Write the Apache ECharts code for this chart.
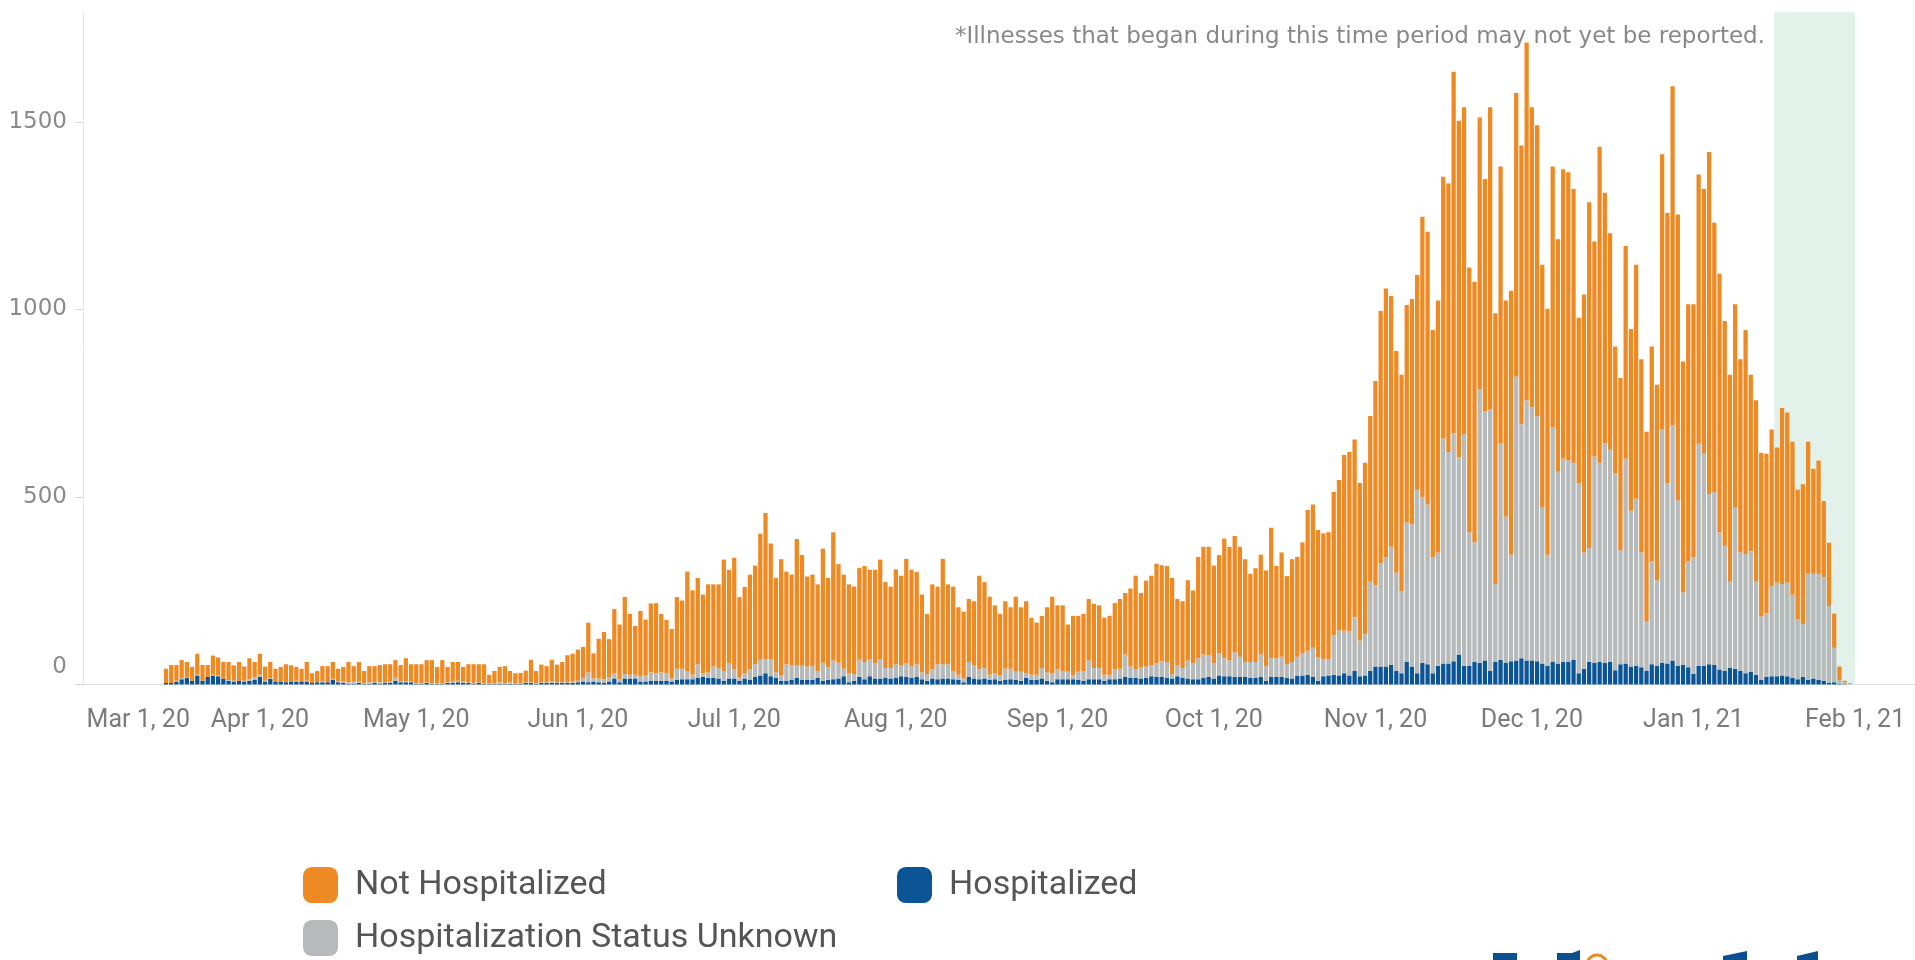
<!DOCTYPE html>
<html>
<head>
<meta charset="utf-8">
<title>Illness onset by hospitalization status</title>
<script src="https://cdn.jsdelivr.net/npm/echarts@6/dist/echarts.min.js"></script>
<style>
  html, body { margin: 0; padding: 0; background: #fff; }
  #chart { width: 1915px; height: 960px; }
</style>
</head>
<body>
<div id="chart"></div>
<script>
// daily counts, first bar is Mar 14, 2020, last is Jan 31, 2021
const firstDay = '2020-03-14';

const hospitalized = [
  // Mar 14-31
  4,4,8,14,18,10,24,10,20,24,22,15,10,8,10,8,10,12,
  // Apr
  20,8,15,8,8,6,8,8,8,8,4,6,6,6,12,6,4,2,2,4,2,2,4,2,4,4,10,6,6,6,
  // May
  2,2,4,2,2,2,4,4,6,4,4,2,4,2,2,2,2,2,2,2,2,4,4,2,4,4,4,4,4,4,4,
  // Jun
  6,8,6,8,6,4,8,16,6,16,16,16,8,8,10,10,10,10,8,12,14,14,14,18,20,18,18,16,10,16,
  // Jul
  16,10,16,12,20,24,30,22,18,10,10,12,18,12,12,12,18,10,12,14,16,22,6,10,20,14,22,16,16,18,16,
  // Aug
  18,22,20,18,20,14,10,16,14,16,16,14,12,6,20,16,14,16,12,14,10,12,14,12,10,18,12,12,16,10,6,
  // Sep
  14,14,14,14,12,10,14,14,14,10,14,14,16,20,18,18,16,18,22,20,20,18,16,22,18,16,14,14,18,20,
  // Oct
  16,24,22,22,20,20,20,18,18,20,10,20,20,20,18,16,24,24,26,20,10,22,24,26,24,30,24,36,22,24,36,
  // Nov
  48,48,48,52,36,30,60,48,30,58,54,30,50,56,56,62,80,50,50,60,58,64,36,60,66,58,62,64,70,64,
  // Dec
  64,62,56,50,60,56,60,60,66,30,42,60,58,60,58,60,38,54,56,48,50,46,36,54,50,58,56,64,50,52,46,
  // Jan
  28,50,50,54,52,40,36,44,42,36,30,34,26,12,20,22,22,24,22,18,14,20,12,16,12,10,4,6,2,1,0
];

const statusUnknown = [
  0,0,2,3,2,0,2,0,0,2,2,0,2,2,0,2,4,8,
  6,2,2,0,0,0,0,2,0,2,0,0,2,0,3,2,4,4,6,4,2,4,2,4,2,4,8,2,2,2,
  2,2,2,2,2,2,2,4,4,4,2,2,2,2,2,2,4,2,4,2,2,2,2,2,2,2,4,2,2,2,4,
  4,8,26,8,10,10,12,14,8,12,10,10,14,16,22,20,22,20,8,30,28,22,12,36,10,14,30,28,26,40,
  24,10,14,28,34,42,38,46,14,14,44,38,34,38,36,36,18,48,34,50,42,20,24,18,46,46,46,40,52,26,28,
  36,30,36,30,34,18,18,24,40,38,38,22,14,10,40,36,26,28,14,16,14,30,28,22,24,12,14,14,28,22,24,
  26,22,20,10,22,26,50,30,30,16,10,26,26,60,30,22,30,30,30,36,42,42,12,30,26,48,42,56,62,58,
  40,60,48,42,66,54,40,42,42,60,38,50,50,54,36,44,50,60,64,78,62,46,44,106,120,113,117,143,95,110,238,
  217,276,292,315,262,218,372,379,489,441,426,310,302,600,564,608,526,618,356,319,729,664,698,208,578,389,284,757,624,694,
  676,654,415,296,626,511,542,537,525,507,310,304,550,531,586,566,525,304,546,415,445,306,131,274,227,622,481,628,441,193,282,
  312,592,565,453,461,366,334,230,429,316,318,321,248,169,169,240,250,244,250,221,159,141,283,279,283,276,205,92,10,4,2
];

const notHospitalized = [
  38,48,42,48,40,37,56,42,32,51,48,45,48,41,50,38,56,40,
  56,38,43,34,39,48,43,37,34,50,26,30,41,43,45,34,39,54,41,52,32,43,43,46,48,46,47,44,62,46,
  50,50,59,61,43,61,41,52,50,39,48,50,48,50,22,32,41,45,30,26,27,31,60,32,47,43,58,47,54,72,74,
  83,84,133,67,106,126,101,171,146,205,162,130,174,149,184,187,156,142,132,191,182,265,225,230,210,235,219,223,297,250,
  298,213,230,253,263,336,389,308,252,310,247,243,336,295,240,245,231,304,238,342,263,251,237,233,245,256,238,250,265,229,217,
  253,238,279,258,246,208,160,227,207,281,213,225,180,178,168,170,250,229,208,181,164,180,164,200,172,192,152,139,139,174,204,
  171,175,126,159,149,152,164,171,167,152,159,177,186,164,208,250,198,229,238,266,256,256,256,176,178,214,195,270,287,289,
  261,261,319,303,310,293,274,235,250,266,256,348,246,278,235,274,266,295,375,382,340,335,338,381,401,469,479,474,420,457,442,
  544,672,716,669,591,578,580,601,573,748,727,605,672,698,716,964,897,871,706,695,725,620,805,722,737,577,704,756,743,954,
  799,775,648,656,695,620,772,769,730,441,688,922,573,843,667,577,338,459,567,485,624,515,507,573,522,734,720,903,762,616,686,
  674,718,706,913,718,689,599,552,543,515,597,471,484,437,426,418,360,469,453,408,346,373,352,280,302,203,169,91,36,5,2
];

const yTicks = [0, 500, 1000, 1500];
const monthNames = ['Jan', 'Feb', 'Mar', 'Apr', 'May', 'Jun', 'Jul', 'Aug', 'Sep', 'Oct', 'Nov', 'Dec'];
// shaded "may not yet be reported" window
const lagStart = '2021-01-16';
const lagEnd = '2021-02-01';

// category axis: one slot per day, Feb 27 2020 .. Feb 12 2021
const axisStart = Date.UTC(2020, 1, 27);
const axisDays = 352;
const days = [];
for (let i = 0; i < axisDays; i++) {
  days.push(new Date(axisStart + i * 86400000).toISOString().slice(0, 10));
}
const offset = days.indexOf(firstDay);
function onAxis(arr) {
  return days.map((d, i) => {
    const k = i - offset;
    return k >= 0 && k < arr.length ? arr[k] : null;
  });
}
const isMonthStart = (idx, d) => d.slice(8) === '01';

const FONT = 'Roboto';
const orange = '#ee8a23', grey = '#b6babb', blue = '#0b5495';

function legendItem(name, left, top) {
  return {
    data: [name], left: left, top: top, orient: 'horizontal',
    icon: 'roundRect', itemWidth: 35, itemHeight: 36,
    selectedMode: false,
    textStyle: { fontFamily: FONT, fontSize: 34, color: '#555', padding: [0, 0, 0, 12] }
  };
}

const myChart = echarts.init(document.getElementById('chart'));
const option = {
  animation: false,
  backgroundColor: '#fff',
  grid: { left: 80, right: 0, top: 12, bottom: 275.5 },
  legend: [
    legendItem('Not Hospitalized', 298, 862),
    legendItem('Hospitalized', 892, 862),
    legendItem('Hospitalization Status Unknown', 298, 915)
  ],
  xAxis: {
    type: 'category',
    data: days,
    boundaryGap: true,
    axisLine: { lineStyle: { color: '#dedede', width: 1 } },
    axisTick: { interval: isMonthStart, alignWithLabel: true, length: 8, lineStyle: { color: '#cfcfcf' } },
    axisLabel: {
      interval: isMonthStart,
      margin: 24,
      fontFamily: FONT,
      fontSize: 25,
      color: '#7b7b7b',
      formatter: d => {
        const s = monthNames[+d.slice(5, 7) - 1] + ' 1, ' + d.slice(2, 4);
        return d === '2020-03-01' ? '{first|' + s + '}' : s;
      },
      rich: {
        first: { padding: [0, 0, 0, 80], fontFamily: FONT, fontSize: 25, color: '#7b7b7b' }
      }
    }
  },
  yAxis: {
    type: 'value',
    min: 0,
    max: 1793,
    offset: -3,
    splitLine: { show: false },
    axisLine: { show: true, lineStyle: { color: '#e6e6e6' } },
    axisTick: { show: true, customValues: yTicks, length: 8, lineStyle: { color: '#d6d6d6' } },
    axisLabel: {
      customValues: yTicks,
      margin: 16,
      fontFamily: 'DejaVu Sans',
      fontSize: 23,
      color: '#8a8a8a',
      formatter: v => (v === 0 ? '{zero|0}' : String(v)),
      rich: {
        zero: { padding: [0, 0, 34, 0], fontFamily: 'DejaVu Sans', fontSize: 23, color: '#8a8a8a' }
      }
    }
  },
  series: [
    {
      name: 'Hospitalized',
      type: 'bar',
      stack: 'cases',
      barCategoryGap: '18%',
      itemStyle: { color: blue },
      emphasis: { disabled: true },
      data: onAxis(hospitalized),
      markArea: {
        silent: true,
        itemStyle: { color: '#e2f2ea' },
        data: [[{ xAxis: lagStart }, { xAxis: lagEnd }]]
      }
    },
    {
      name: 'Hospitalization Status Unknown',
      type: 'bar',
      stack: 'cases',
      barCategoryGap: '18%',
      itemStyle: { color: grey },
      emphasis: { disabled: true },
      data: onAxis(statusUnknown)
    },
    {
      name: 'Not Hospitalized',
      type: 'bar',
      stack: 'cases',
      barCategoryGap: '18%',
      itemStyle: { color: orange },
      emphasis: { disabled: true },
      data: onAxis(notHospitalized)
    }
  ],
  graphic: [
    {
      type: 'text', right: 150, top: 26,
      style: {
        text: '*Illnesses that began during this time period may not yet be reported.',
        font: '23px "DejaVu Sans"', fill: '#888'
      }
    },
    // bottom edge of the department logo, cut off by the frame
    { type: 'polygon', shape: { points: [[1493, 953], [1517, 953], [1517, 960], [1493, 960]] }, style: { fill: '#0b4f8f' } },
    { type: 'polygon', shape: { points: [[1557, 953], [1572, 953], [1580, 950], [1580, 960], [1557, 960]] }, style: { fill: '#0b4f8f' } },
    { type: 'circle', shape: { cx: 1597, cy: 965, r: 10 }, style: { fill: 'none', stroke: '#e98b2a', lineWidth: 3 } },
    { type: 'polygon', shape: { points: [[1723, 956], [1747, 951], [1747, 960], [1723, 960]] }, style: { fill: '#0b4f8f' } },
    { type: 'polygon', shape: { points: [[1797, 956], [1818, 951], [1818, 960], [1797, 960]] }, style: { fill: '#0b4f8f' } }
  ]
};
myChart.setOption(option);
window.onresize = myChart.resize;
</script>
</body>
</html>
